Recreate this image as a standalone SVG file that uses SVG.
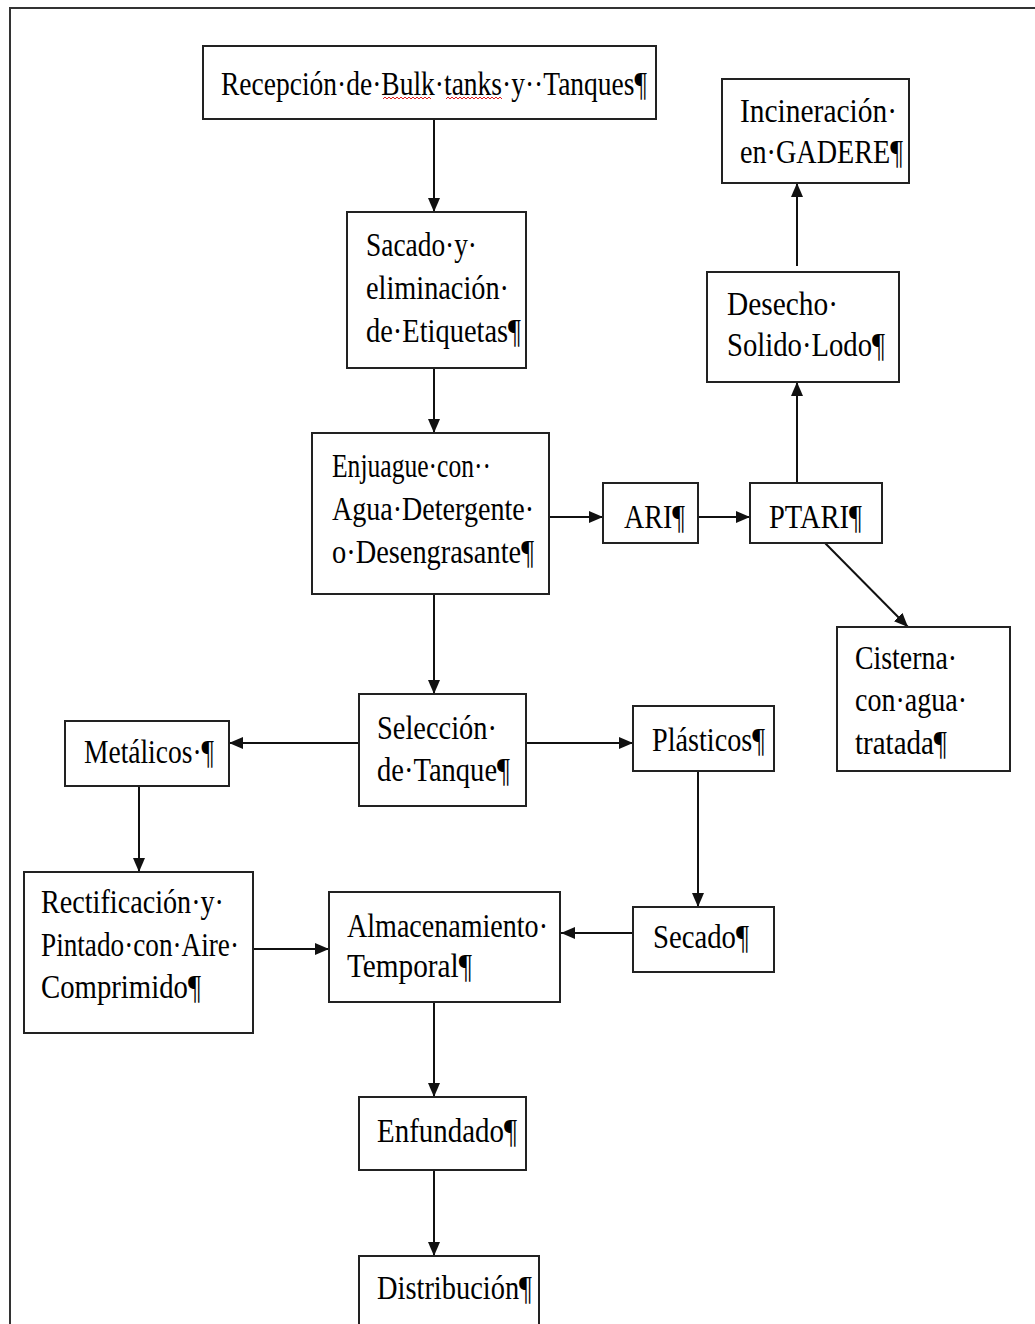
<svg xmlns="http://www.w3.org/2000/svg" width="1035" height="1324" viewBox="0 0 1035 1324">
<style>
.box{fill:#fff;stroke:#222;stroke-width:2}
.t{font-family:"Liberation Serif","Times New Roman",serif;font-size:33px;fill:#000}
.c{stroke:#111;stroke-width:2;fill:none}
.w{stroke:#e02020;stroke-width:1;fill:none}
</style>
<defs>
<marker id="ah" markerUnits="userSpaceOnUse" markerWidth="14" markerHeight="12" refX="14" refY="6" orient="auto">
<path d="M0,0 L14,6 L0,12 z" fill="#111"/>
</marker>
</defs>
<rect x="0" y="0" width="1035" height="1324" fill="#fff"/>
<rect x="10" y="8" width="1040" height="1330" fill="none" stroke="#333" stroke-width="2"/>

<g id="connectors">
<line class="c" x1="434" y1="119" x2="434" y2="212" marker-end="url(#ah)"/>
<line class="c" x1="434" y1="368" x2="434" y2="433" marker-end="url(#ah)"/>
<line class="c" x1="549" y1="517" x2="603" y2="517" marker-end="url(#ah)"/>
<line class="c" x1="698" y1="517" x2="750" y2="517" marker-end="url(#ah)"/>
<line class="c" x1="797" y1="483" x2="797" y2="382" marker-end="url(#ah)"/>
<line class="c" x1="797" y1="266" x2="797" y2="183" marker-end="url(#ah)"/>
<line class="c" x1="825" y1="543" x2="908" y2="627" marker-end="url(#ah)"/>
<line class="c" x1="434" y1="594" x2="434" y2="694" marker-end="url(#ah)"/>
<line class="c" x1="359" y1="743" x2="229" y2="743" marker-end="url(#ah)"/>
<line class="c" x1="526" y1="743" x2="633" y2="743" marker-end="url(#ah)"/>
<line class="c" x1="139" y1="786" x2="139" y2="872" marker-end="url(#ah)"/>
<line class="c" x1="698" y1="771" x2="698" y2="907" marker-end="url(#ah)"/>
<line class="c" x1="647" y1="933" x2="561" y2="933" marker-end="url(#ah)"/>
<line class="c" x1="254" y1="949" x2="329" y2="949" marker-end="url(#ah)"/>
<line class="c" x1="434" y1="1002" x2="434" y2="1097" marker-end="url(#ah)"/>
<line class="c" x1="434" y1="1171" x2="434" y2="1256" marker-end="url(#ah)"/>
</g>

<g id="recepcion">
<rect class="box" x="203" y="46" width="453" height="73"/>
<text class="t" x="221" y="95" textLength="426" lengthAdjust="spacingAndGlyphs">Recepción·de·Bulk·tanks·y··Tanques¶</text>
<path class="w" d="M383,99 l2,-2 l2,2 l2,-2 l2,2 l2,-2 l2,2 l2,-2 l2,2 l2,-2 l2,2 l2,-2 l2,2 l2,-2 l2,2 l2,-2 l2,2 l2,-2 l2,2 l2,-2 l2,2 l2,-2 l2,2 l2,-2 l2,2"/>
<path class="w" d="M446,99 l2,-2 l2,2 l2,-2 l2,2 l2,-2 l2,2 l2,-2 l2,2 l2,-2 l2,2 l2,-2 l2,2 l2,-2 l2,2 l2,-2 l2,2 l2,-2 l2,2 l2,-2 l2,2 l2,-2 l2,2 l2,-2 l2,2 l2,-2 l2,2 l2,-2 l2,2"/>
</g>

<g id="sacado">
<rect class="box" x="347" y="212" width="179" height="156"/>
<text class="t" x="366" y="256" textLength="111" lengthAdjust="spacingAndGlyphs">Sacado·y·</text>
<text class="t" x="366" y="299" textLength="143" lengthAdjust="spacingAndGlyphs">eliminación·</text>
<text class="t" x="366" y="342" textLength="155" lengthAdjust="spacingAndGlyphs">de·Etiquetas¶</text>
</g>

<g id="enjuague">
<rect class="box" x="312" y="433" width="237" height="161"/>
<text class="t" x="332" y="477" textLength="159" lengthAdjust="spacingAndGlyphs">Enjuague·con··</text>
<text class="t" x="332" y="520" textLength="202" lengthAdjust="spacingAndGlyphs">Agua·Detergente·</text>
<text class="t" x="332" y="563" textLength="202" lengthAdjust="spacingAndGlyphs">o·Desengrasante¶</text>
</g>

<g id="ari">
<rect class="box" x="603" y="483" width="95" height="60"/>
<text class="t" x="624" y="528" textLength="61" lengthAdjust="spacingAndGlyphs">ARI¶</text>
</g>

<g id="ptari">
<rect class="box" x="750" y="483" width="132" height="60"/>
<text class="t" x="769" y="528" textLength="93" lengthAdjust="spacingAndGlyphs">PTARI¶</text>
</g>

<g id="desecho">
<rect class="box" x="707" y="272" width="192" height="110"/>
<text class="t" x="727" y="315" textLength="111" lengthAdjust="spacingAndGlyphs">Desecho·</text>
<text class="t" x="727" y="356" textLength="158" lengthAdjust="spacingAndGlyphs">Solido·Lodo¶</text>
</g>

<g id="incineracion">
<rect class="box" x="722" y="79" width="187" height="104"/>
<text class="t" x="740" y="122" textLength="157" lengthAdjust="spacingAndGlyphs">Incineración·</text>
<text class="t" x="740" y="163" textLength="163" lengthAdjust="spacingAndGlyphs">en·GADERE¶</text>
</g>

<g id="cisterna">
<rect class="box" x="837" y="627" width="173" height="144"/>
<text class="t" x="855" y="669" textLength="102" lengthAdjust="spacingAndGlyphs">Cisterna·</text>
<text class="t" x="855" y="711" textLength="112" lengthAdjust="spacingAndGlyphs">con·agua·</text>
<text class="t" x="855" y="754" textLength="92" lengthAdjust="spacingAndGlyphs">tratada¶</text>
</g>

<g id="seleccion">
<rect class="box" x="359" y="694" width="167" height="112"/>
<text class="t" x="377" y="739" textLength="120" lengthAdjust="spacingAndGlyphs">Selección·</text>
<text class="t" x="377" y="781" textLength="133" lengthAdjust="spacingAndGlyphs">de·Tanque¶</text>
</g>

<g id="metalicos">
<rect class="box" x="65" y="721" width="164" height="65"/>
<text class="t" x="84" y="763" textLength="130" lengthAdjust="spacingAndGlyphs">Metálicos·¶</text>
</g>

<g id="plasticos">
<rect class="box" x="633" y="706" width="141" height="65"/>
<text class="t" x="652" y="751" textLength="113" lengthAdjust="spacingAndGlyphs">Plásticos¶</text>
</g>

<g id="rectificacion">
<rect class="box" x="24" y="872" width="229" height="161"/>
<text class="t" x="41" y="913" textLength="183" lengthAdjust="spacingAndGlyphs">Rectificación·y·</text>
<text class="t" x="41" y="956" textLength="198" lengthAdjust="spacingAndGlyphs">Pintado·con·Aire·</text>
<text class="t" x="41" y="998" textLength="160" lengthAdjust="spacingAndGlyphs">Comprimido¶</text>
</g>

<g id="almacenamiento">
<rect class="box" x="329" y="892" width="231" height="110"/>
<text class="t" x="347" y="937" textLength="201" lengthAdjust="spacingAndGlyphs">Almacenamiento·</text>
<text class="t" x="347" y="977" textLength="125" lengthAdjust="spacingAndGlyphs">Temporal¶</text>
</g>

<g id="secado">
<rect class="box" x="633" y="907" width="141" height="65"/>
<text class="t" x="653" y="948" textLength="96" lengthAdjust="spacingAndGlyphs">Secado¶</text>
</g>

<g id="enfundado">
<rect class="box" x="359" y="1097" width="167" height="73"/>
<text class="t" x="377" y="1142" textLength="140" lengthAdjust="spacingAndGlyphs">Enfundado¶</text>
</g>

<g id="distribucion">
<rect class="box" x="359" y="1256" width="180" height="90"/>
<text class="t" x="377" y="1299" textLength="155" lengthAdjust="spacingAndGlyphs">Distribución¶</text>
</g>
</svg>
